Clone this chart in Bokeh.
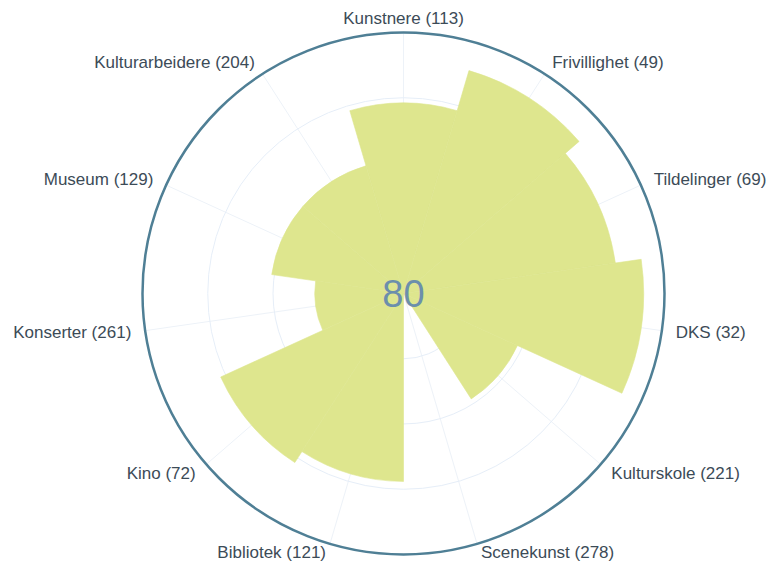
import math
from bokeh.plotting import figure
from bokeh.models import Range1d, ColumnDataSource
from bokeh.embed import file_html
from bokeh.resources import INLINE
from bokeh.core.properties import value

# ---- data ----
categories = ["Kunstnere", "Frivillighet", "Tildelinger", "DKS", "Kulturskole",
              "Scenekunst", "Bibliotek", "Kino", "Konserter", "Museum", "Kulturarbeidere"]
counts = [113, 49, 69, 32, 221, 278, 121, 72, 261, 129, 204]
scores = [73, 89, 82, 92, 48, 0, 72, 77, 34, 51, 51]
center_value = 80
axis_max = 100
grid_levels = [25, 50, 75]

# ---- layout ----
W, H = 769, 564
PX = 2.61                 # pixels per data unit (radius 100 -> 261 px)
cx_px, cy_px = 403, 293   # pane centre inside the figure

x0 = -cx_px / PX
x1 = (W - cx_px) / PX
y1 = cy_px / PX
y0 = -(H - cy_px) / PX

p = figure(width=W, height=H, x_range=Range1d(x0, x1), y_range=Range1d(y0, y1),
           output_backend="svg", toolbar_location=None, min_border=0,
           x_axis_location=None, y_axis_location=None)
p.grid.visible = False
p.outline_line_color = None
p.background_fill_color = "white"
p.border_fill_color = "white"

n = len(categories)
step = 360.0 / n

# grid spokes and rings
spoke_x1, spoke_y1 = [], []
for i in range(n):
    th = math.radians(i * step)
    spoke_x1.append(axis_max * math.sin(th))
    spoke_y1.append(axis_max * math.cos(th))
p.segment(x0=[0] * n, y0=[0] * n, x1=spoke_x1, y1=spoke_y1,
          line_color="#edf2f8", line_width=1)
p.circle(x=[0] * len(grid_levels), y=[0] * len(grid_levels), radius=grid_levels,
         fill_color=None, line_color="#e6eef8", line_width=1)

# wedges
sa, ea = [], []
for i in range(n):
    c = i * step
    sa.append(math.radians(90 - (c + step / 2)))
    ea.append(math.radians(90 - (c - step / 2)))
src = ColumnDataSource(dict(r=scores, sa=sa, ea=ea, cat=categories))
p.wedge(x=0, y=0, radius="r", start_angle="sa", end_angle="ea", direction="anticlock",
        fill_color="#dee68e", line_color="#dee68e", line_width=0.6, source=src)

# outer ring
p.circle(x=[0], y=[0], radius=axis_max, fill_color=None,
         line_color="#4f7f95", line_width=2.5)

# category labels
lx, ly, lt, la, xo, yo = [], [], [], [], [], []
for i, (cat, cnt) in enumerate(zip(categories, counts)):
    deg = i * step
    th = math.radians(deg)
    lx.append(axis_max * math.sin(th))
    ly.append(axis_max * math.cos(th))
    lt.append(f"{cat} ({cnt})")
    if abs(math.sin(th)) < 1e-6:
        la.append("center")
    elif math.sin(th) > 0:
        la.append("left")
    else:
        la.append("right")
    xo.append(14 * math.sin(th))
    off = -14 * math.cos(th)
    if math.cos(th) < -0.9:
        off -= 5
    yo.append(off)
lsrc = ColumnDataSource(dict(x=lx, y=ly, t=lt, a=la, xo=xo, yo=yo))
p.text(x="x", y="y", text="t", text_align="a", x_offset="xo", y_offset="yo",
       text_baseline="middle", text_font=value("Liberation Sans"),
       text_font_size="17px", text_color="#3c4b57", source=lsrc)

# centre value
p.text(x=[0], y=[0], text=[str(center_value)], text_align="center",
       text_baseline="middle", text_font=value("Liberation Sans"),
       text_font_size="38px", text_color="#6c8fac")

open("out.html", "w").write(file_html(p, INLINE))
